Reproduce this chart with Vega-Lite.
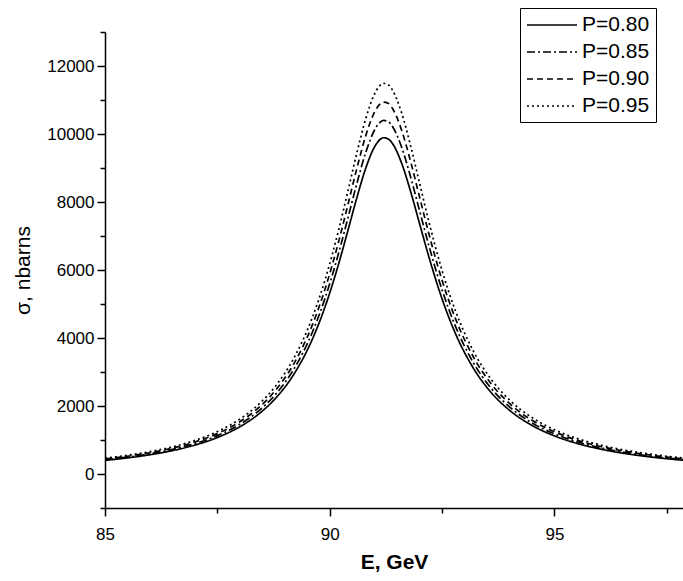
{
  "$schema": "https://vega.github.io/schema/vega-lite/v6.json",
  "width": 578,
  "height": 476,
  "autosize": {"type": "none"},
  "padding": {"left": 105, "top": 32, "right": 0, "bottom": 73},
  "background": "white",
  "config": {"view": {"stroke": null}, "font": "Liberation Sans"},
  "data": {"values": [
    {"E": 85, "p80": 401, "p85": 422, "p90": 444, "p95": 466},
    {"E": 85.5, "p80": 473, "p85": 497, "p90": 523, "p95": 550},
    {"E": 86, "p80": 566, "p85": 595, "p90": 626, "p95": 658},
    {"E": 86.5, "p80": 687, "p85": 722, "p90": 760, "p95": 798},
    {"E": 87, "p80": 850, "p85": 894, "p90": 940, "p95": 988},
    {"E": 87.5, "p80": 1073, "p85": 1128, "p90": 1187, "p95": 1247},
    {"E": 88, "p80": 1389, "p85": 1461, "p90": 1537, "p95": 1614},
    {"E": 88.4, "p80": 1744, "p85": 1834, "p90": 1929, "p95": 2026},
    {"E": 88.8, "p80": 2235, "p85": 2350, "p90": 2472, "p95": 2597},
    {"E": 89.2, "p80": 2930, "p85": 3081, "p90": 3241, "p95": 3404},
    {"E": 89.6, "p80": 3924, "p85": 4126, "p90": 4341, "p95": 4559},
    {"E": 89.9, "p80": 4931, "p85": 5185, "p90": 5455, "p95": 5729},
    {"E": 90.2, "p80": 6188, "p85": 6507, "p90": 6845, "p95": 7189},
    {"E": 90.4, "p80": 7138, "p85": 7506, "p90": 7896, "p95": 8293},
    {"E": 90.6, "p80": 8109, "p85": 8527, "p90": 8970, "p95": 9421},
    {"E": 90.8, "p80": 8988, "p85": 9452, "p90": 9943, "p95": 10442},
    {"E": 91.0, "p80": 9628, "p85": 10125, "p90": 10650, "p95": 11186},
    {"E": 91.1, "p80": 9813, "p85": 10319, "p90": 10855, "p95": 11401},
    {"E": 91.2, "p80": 9890, "p85": 10400, "p90": 10940, "p95": 11490},
    {"E": 91.3, "p80": 9856, "p85": 10365, "p90": 10903, "p95": 11451},
    {"E": 91.4, "p80": 9712, "p85": 10213, "p90": 10743, "p95": 11283},
    {"E": 91.6, "p80": 9140, "p85": 9612, "p90": 10111, "p95": 10619},
    {"E": 91.8, "p80": 8306, "p85": 8735, "p90": 9188, "p95": 9650},
    {"E": 92.0, "p80": 7358, "p85": 7738, "p90": 8139, "p95": 8549},
    {"E": 92.2, "p80": 6414, "p85": 6745, "p90": 7095, "p95": 7452},
    {"E": 92.5, "p80": 5148, "p85": 5414, "p90": 5695, "p95": 5981},
    {"E": 92.8, "p80": 4123, "p85": 4336, "p90": 4561, "p95": 4790},
    {"E": 93.2, "p80": 3103, "p85": 3263, "p90": 3433, "p95": 3605},
    {"E": 93.6, "p80": 2385, "p85": 2508, "p90": 2638, "p95": 2771},
    {"E": 94, "p80": 1875, "p85": 1972, "p90": 2074, "p95": 2178},
    {"E": 94.5, "p80": 1429, "p85": 1503, "p90": 1581, "p95": 1660},
    {"E": 95, "p80": 1121, "p85": 1179, "p90": 1240, "p95": 1302},
    {"E": 95.5, "p80": 901, "p85": 947, "p90": 997, "p95": 1047},
    {"E": 96, "p80": 739, "p85": 777, "p90": 817, "p95": 859},
    {"E": 96.5, "p80": 617, "p85": 649, "p90": 683, "p95": 717},
    {"E": 97, "p80": 523, "p85": 550, "p90": 579, "p95": 608},
    {"E": 97.5, "p80": 449, "p85": 472, "p90": 497, "p95": 522},
    {"E": 98, "p80": 389, "p85": 409, "p90": 430, "p95": 452}
  ]},
  "transform": [{"fold": ["p80", "p85", "p90", "p95"], "as": ["P", "sigma"]}],
  "resolve": {"axis": {"x": "independent", "y": "independent"}},
  "layer": [
    {
      "mark": {"type": "line", "strokeWidth": 1.7, "color": "black", "interpolate": "monotone", "clip": true},
      "encoding": {
        "x": {
          "field": "E", "type": "quantitative",
          "scale": {"domain": [85, 97.86], "nice": false, "zero": false},
          "axis": {
            "orient": "bottom", "values": [85, 90, 95], "title": "E, GeV", "grid": false, "labelFlush": false,
            "domainColor": "black", "domainWidth": 1.5, "tickColor": "black", "tickWidth": 1.5, "tickSize": 8,
            "labelFontSize": 17, "labelColor": "black", "labelPadding": 10, "labelFont": "Liberation Sans",
            "titleFontSize": 21, "titleFontWeight": "bold", "titleColor": "black", "titlePadding": 9, "titleFont": "Liberation Sans"
          }
        },
        "y": {
          "field": "sigma", "type": "quantitative",
          "scale": {"domain": [-1000, 13000], "nice": false, "zero": false},
          "axis": {
            "orient": "left", "values": [0, 2000, 4000, 6000, 8000, 10000, 12000], "title": "σ, nbarns", "grid": false, "format": "d", "labelFlush": false,
            "domainColor": "black", "domainWidth": 1.5, "tickColor": "black", "tickWidth": 1.5, "tickSize": 8,
            "labelFontSize": 17, "labelColor": "black", "labelPadding": 3, "labelFont": "Liberation Sans",
            "titleFontSize": 21, "titleFontWeight": "normal", "titleColor": "black", "titlePadding": 13, "titleFont": "Liberation Sans"
          }
        },
        "strokeDash": {
          "field": "P", "type": "nominal",
          "scale": {"domain": ["p80", "p85", "p90", "p95"], "range": [[1, 0], [8, 3, 2, 3], [6, 4], [2, 3]]},
          "legend": {
            "orient": "none", "legendX": 415, "legendY": -24, "title": null,
            "symbolType": "M-1,0H4", "symbolSize": 400, "symbolStrokeWidth": 1.7, "symbolStrokeColor": "black",
            "labelFontSize": 21, "labelFont": "Liberation Sans", "labelColor": "black", "labelOffset": 34,
            "strokeColor": "black", "fillColor": "white", "padding": 6, "rowPadding": 6,
            "labelExpr": "'P=0.' + slice(datum.label, 1)"
          }
        }
      }
    },
    {
      "mark": {"type": "line", "opacity": 0},
      "encoding": {
        "x": {
          "field": "E", "type": "quantitative",
          "axis": {"orient": "bottom", "values": [87.5, 92.5, 97.5], "labels": false, "domain": false, "grid": false, "title": null,
                   "tickColor": "black", "tickWidth": 1.5, "tickSize": 5}
        },
        "y": {
          "field": "sigma", "type": "quantitative",
          "axis": {"orient": "left", "values": [-1000, 1000, 3000, 5000, 7000, 9000, 11000, 13000], "labels": false, "domain": false, "grid": false, "title": null,
                   "tickColor": "black", "tickWidth": 1.5, "tickSize": 5}
        },
        "detail": {"field": "P", "type": "nominal"}
      }
    }
  ]
}
